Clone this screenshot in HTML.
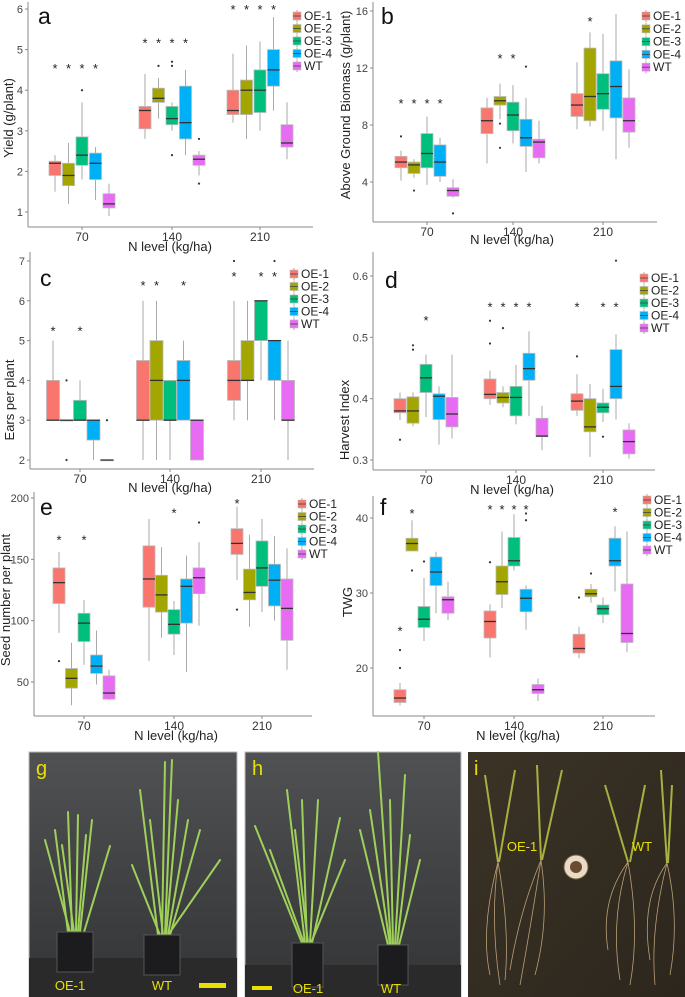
<!DOCTYPE html>
<html><head><meta charset="utf-8">
<style>
html,body{margin:0;padding:0;background:#fff;}
svg{display:block;font-family:"Liberation Sans",sans-serif;}
</style></head>
<body>
<svg id="fig" width="685" height="997" viewBox="0 0 685 997" xmlns="http://www.w3.org/2000/svg">
<g>
  <defs>
    <linearGradient id="bgG" x1="0" y1="0" x2="0" y2="1"><stop offset="0" stop-color="#505153"/><stop offset="1" stop-color="#333436"/></linearGradient>
    <linearGradient id="bgI" x1="0" y1="0" x2="1" y2="1"><stop offset="0" stop-color="#3b3326"/><stop offset="1" stop-color="#2c261d"/></linearGradient>
  </defs>
  <rect x="29" y="752" width="208" height="245" fill="url(#bgG)" stroke="#bbb"/>
  <rect x="29" y="958" width="208" height="39" fill="#2a2a2b"/>
  <g stroke="#9fd05a" stroke-width="2" fill="none" stroke-linecap="round">
    <path d="M68 932 L55 830"/><path d="M72 932 L68 812"/><path d="M76 932 L78 815"/><path d="M80 932 L92 820"/><path d="M84 932 L110 846"/><path d="M70 932 L45 840"/><path d="M78 932 L86 835"/><path d="M74 932 L62 845"/>
    <path d="M158 935 L140 790"/><path d="M162 935 L165 762"/><path d="M165 935 L172 760"/><path d="M168 935 L188 820"/><path d="M170 935 L200 830"/><path d="M160 935 L132 865"/><path d="M163 935 L150 820"/><path d="M166 935 L178 800"/><path d="M168 935 L220 860"/>
  </g>
  <rect x="57" y="932" width="36" height="40" fill="#1c1c1e" stroke="#555"/>
  <rect x="144" y="935" width="36" height="40" fill="#1c1c1e" stroke="#555"/>
  <text x="70" y="990" fill="#e8e000" font-size="13" text-anchor="middle">OE-1</text>
  <text x="162" y="990" fill="#e8e000" font-size="13" text-anchor="middle">WT</text>
  <rect x="199" y="983" width="27" height="5" fill="#e8e000"/>
  <text x="36" y="775" fill="#e8e000" font-size="20">g</text>
</g>
<g>
  <rect x="245" y="752" width="216" height="245" fill="url(#bgG)" stroke="#bbb"/>
  <rect x="245" y="965" width="216" height="32" fill="#2a2a2b"/>
  <g stroke="#9fd05a" stroke-width="2" fill="none" stroke-linecap="round">
    <path d="M302 943 L255 826"/><path d="M305 943 L287 790"/><path d="M307 943 L302 800"/><path d="M310 943 L318 800"/><path d="M312 943 L340 818"/><path d="M308 943 L295 830"/><path d="M311 943 L345 860"/><path d="M304 943 L270 850"/>
    <path d="M388 945 L360 830"/><path d="M391 945 L378 752"/><path d="M393 945 L390 800"/><path d="M395 945 L405 775"/><path d="M397 945 L410 835"/><path d="M399 945 L420 860"/><path d="M390 945 L370 810"/>
  </g>
  <rect x="292" y="943" width="31" height="44" fill="#1c1c1e" stroke="#555"/>
  <rect x="378" y="945" width="30" height="40" fill="#1c1c1e" stroke="#555"/>
  <text x="308" y="993" fill="#e8e000" font-size="13" text-anchor="middle">OE-1</text>
  <text x="391" y="993" fill="#e8e000" font-size="13" text-anchor="middle">WT</text>
  <rect x="252" y="986" width="20" height="4" fill="#e8e000"/>
  <text x="252" y="775" fill="#e8e000" font-size="20">h</text>
</g>
<g>
  <rect x="468" y="752" width="217" height="245" fill="url(#bgI)"/>
  <g stroke="#a7b040" stroke-width="2" fill="none">
    <path d="M498 862 L485 775"/><path d="M499 862 L515 770"/><path d="M541 860 L537 765"/><path d="M542 860 L562 770"/><path d="M628 862 L605 785"/><path d="M630 862 L645 785"/><path d="M667 863 L661 770"/><path d="M668 863 L672 785"/>
  </g>
  <g stroke="#c9ad80" stroke-width="0.8" fill="none" opacity="0.9">
    <path d="M498 862 Q490 920 500 985"/><path d="M498 862 Q510 930 505 980"/><path d="M498 862 Q480 930 490 975"/><path d="M541 860 Q530 930 520 985"/><path d="M541 860 Q550 920 535 975"/><path d="M541 860 Q520 910 510 970"/>
    <path d="M628 862 Q610 920 620 980"/><path d="M628 862 Q640 930 630 985"/><path d="M628 862 Q600 900 608 950"/><path d="M667 863 Q650 930 655 985"/><path d="M667 863 Q680 920 670 975"/><path d="M667 863 Q640 900 650 960"/>
  </g>
  <circle cx="576" cy="867" r="12" fill="#e8dcc8" stroke="#7a6040"/>
  <circle cx="576" cy="867" r="6" fill="#6b4c30"/>
  <text x="522" y="851" fill="#e8e000" font-size="13" text-anchor="middle">OE-1</text>
  <text x="642" y="851" fill="#e8e000" font-size="13" text-anchor="middle">WT</text>
  <text x="474" y="775" fill="#e8e000" font-size="20">i</text>
</g>
</svg>
<script>
const seriesNames = ['OE-1','OE-2','OE-3','OE-4','WT'];
const seriesColors = ['#f8766d','#a3a500','#00bf7d','#00b0f6','#e76bf3'];
const groupLabels = ['70','140','210'];
const yieldStats = [
 [[1.5,1.9,2.2,2.25,2.4],[1.2,1.65,1.9,2.2,2.7],[1.8,2.15,2.4,2.85,3.7,4.0],[1.3,1.8,2.2,2.45,2.6],[0.9,1.1,1.2,1.45,1.7]],
 [[2.8,3.05,3.5,3.6,4.4],[3.3,3.7,3.8,4.05,4.3,4.6],[3.0,3.15,3.3,3.6,3.7,4.6,4.7,2.4],[2.4,2.8,3.2,4.1,4.5],[1.9,2.15,2.3,2.4,2.5,2.8,1.7]],
 [[3.2,3.4,3.5,4.0,4.9],[2.8,3.4,4.0,4.25,5.1],[3.0,3.45,4.0,4.5,5.2],[3.5,4.1,4.5,5.0,5.8],[2.3,2.6,2.7,3.15,3.7]]];
const yieldStars = [[0,0,4.55],[0,1,4.55],[0,2,4.55],[0,3,4.55],[1,0,5.18],[1,1,5.18],[1,2,5.18],[1,3,5.18],[2,0,6.0],[2,1,6.0],[2,2,6.0],[2,3,6.0]];
const yieldTicks = [1,2,3,4,5,6];
const biomassStats = [
 [[4.1,5.0,5.4,5.8,6.2,7.2],[4.3,4.6,5.2,5.4,5.6,3.4],[3.8,5.0,6.0,7.4,8.6],[4.0,4.4,5.4,6.6,7.1],[2.9,3.0,3.4,3.6,4.2,1.8]],
 [[5.3,7.4,8.3,9.2,9.9],[8.4,9.4,9.7,10.0,10.9,8.1,6.4],[6.7,7.6,8.7,9.6,10.8],[4.7,6.5,7.1,8.4,9.9,12.1],[5.3,5.7,6.8,7.0,8.3]],
 [[7.7,8.6,9.4,10.2,12.4],[7.9,8.3,10.0,13.4,14.5],[7.6,9.1,10.2,11.6,14.4],[5.6,8.5,10.7,12.5,15.8],[6.4,7.5,8.3,9.9,11.9]]];
const biomassStars = [[0,0,9.55],[0,1,9.55],[0,2,9.55],[0,3,9.55],[1,1,12.7],[1,2,12.7],[2,1,15.3]];
const biomassTicks = [4,8,12,16];
const earsStats = [
 [[3,3,3,4,5],[3,3,3,3,3,4,2],[3,3,3,3.5,4],[2,2.5,3,3,3],[2,2,2,2,2,3]],
 [[2,3,3,4.5,6],[2,3,4,5,6],[2,3,3,4,4],[3,3,4,4.5,5],[2,2,3,3,3]],
 [[3,3.5,4,4.5,6,7],[3,4,4,5,6],[4,5,6,6,6],[3,4,5,5,5,7],[2,3,3,4,5]]];
const earsStars = [[0,0,5.25],[0,2,5.25],[1,0,6.4],[1,1,6.4],[1,3,6.4],[2,0,6.62],[2,2,6.62],[2,3,6.62]];
const earsTicks = [2,3,4,5,6,7];
const hiStats = [
 [[0.365,0.377,0.38,0.4,0.41,0.333],[0.355,0.36,0.38,0.403,0.41,0.48,0.487],[0.37,0.41,0.434,0.456,0.472],[0.325,0.366,0.404,0.408,0.42],[0.335,0.354,0.375,0.402,0.472]],
 [[0.39,0.4,0.407,0.432,0.446,0.49,0.527],[0.386,0.393,0.402,0.41,0.42,0.515],[0.358,0.372,0.402,0.42,0.455],[0.372,0.43,0.449,0.474,0.51],[0.316,0.338,0.339,0.368,0.388]],
 [[0.372,0.381,0.396,0.408,0.44,0.469],[0.305,0.346,0.354,0.4,0.424],[0.362,0.377,0.386,0.393,0.416,0.338],[0.366,0.4,0.42,0.48,0.505,0.625],[0.302,0.31,0.33,0.349,0.36]]];
const hiStars = [[0,2,0.528],[1,0,0.55],[1,1,0.55],[1,2,0.55],[1,3,0.55],[2,0,0.55],[2,2,0.55],[2,3,0.55]];
const hiTicks = [0.3,0.4,0.5,0.6];
const seedStats = [
 [[90,114,131,143,156,67],[31,45,53,61,82],[64,83,98,106,117],[48,57,63,72,92],[35,36,41,55,60]],
 [[67,111,134,161,183],[86,107,121,137,160],[72,89,97,109,116],[58,98,128,134,153],[96,122,135,143,164,180]],
 [[133,154,163,175,193,109],[95,117,123,142,170],[107,128,143,165,183],[100,112,133,146,169],[60,84,110,134,159]]];
const seedStars = [[0,0,166],[0,2,166],[1,2,188],[2,0,196]];
const seedTicks = [50,100,150,200];
const twgStats = [
 [[15,15.4,16,17.1,18,20,22.4],[35.6,35.6,36.6,37.3,39.7,33],[23.6,25.4,26.5,28.2,32,34.2],[27.3,31,32.8,34.8,35.5],[26.4,27.3,29.1,29.5,31.5]],
 [[21.4,24,26.2,27.6,28.5,34.1],[28,29.8,31.5,33.6,38.2],[33,33.6,34.3,37.4,40.5],[25.1,27.5,29.3,30.5,31,39.7,40.6],[15.6,16.6,17.1,17.8,18.6]],
 [[21.3,22,22.6,24.5,25.5,29.4],[28.7,29.5,29.9,30.5,31.2,32.6],[26,27.1,27.9,28.4,29.4],[30.2,33.6,34.3,37.3,38.9],[22.1,23.4,24.6,31.2,38.2]]];
const twgStars = [[0,0,25],[0,1,40.7],[1,0,41.2],[1,1,41.2],[1,2,41.2],[1,3,41.2],[2,3,40.9]];
const twgTicks = [20,30,40];

const NS='http://www.w3.org/2000/svg';
const svg=document.getElementById('fig');
function mk(tag,attrs,parent){const e=document.createElementNS(NS,tag);for(const k in attrs)e.setAttribute(k,attrs[k]);(parent||svg).appendChild(e);return e;}

function drawPanel(cfg,stats,stars,ticks){
  const g=mk('g',{});
  
  
  const ys=v=>cfg.p1+(v-cfg.v1)*(cfg.p2-cfg.p1)/(cfg.v2-cfg.v1);
  const xs=(gi,si)=>cfg.gx[gi]+(si-2)*cfg.sp;
  const ax=mk('line',{x1:cfg.ax,y1:cfg.top,x2:cfg.ax,y2:cfg.axY,stroke:'#888','stroke-width':1},g);
  
  
  const bx=mk('line',{x1:cfg.ax,y1:cfg.axY,x2:cfg.right,y2:cfg.axY,stroke:'#888','stroke-width':1},g);
  
  
  ticks.forEach(t=>{
    const y=ys(t);
    mk('line',{x1:cfg.ax-3,y1:y,x2:cfg.ax,y2:y,stroke:'#888'},g);
    const tx=mk('text',{x:cfg.ax-5,y:y+4,'font-size':11,fill:'#444','text-anchor':'end'},g);
    tx.textContent=String(t);
    
    
  });
  groupLabels.forEach((l,i)=>{
    mk('line',{x1:cfg.gx[i],y1:cfg.axY,x2:cfg.gx[i],y2:cfg.axY+3,stroke:'#888'},g);
    const tx=mk('text',{x:cfg.gx[i],y:cfg.axY+14,'font-size':12,fill:'#333','text-anchor':'middle'},g);
    tx.textContent=l;
    
    
  });
  const hw=cfg.bw/2;
  stats.forEach((grp,gi)=>grp.forEach((s,si)=>{
    const x=xs(gi,si);
    const bg=mk('g',{},g);
    
    
    mk('line',{x1:x,y1:ys(s[0]),x2:x,y2:ys(s[4]),stroke:'#aaa','stroke-width':1},bg);
    mk('rect',{x:x-hw,y:ys(s[3]),width:cfg.bw,height:Math.max(0.8,ys(s[1])-ys(s[3])),fill:seriesColors[si],stroke:'#bbb','stroke-width':0.8},bg);
    mk('line',{x1:x-hw,y1:ys(s[2]),x2:x+hw,y2:ys(s[2]),stroke:'#333','stroke-width':1.3},bg);
    for(let k=5;k<s.length;k++){
      const o=mk('circle',{cx:x,cy:ys(s[k]),r:1.1,fill:'#333'},bg);
      
      
    }
  }));
  stars.forEach(st=>{
    const t=mk('text',{x:xs(st[0],st[1]),y:ys(st[2])+5,'font-size':13,fill:'#222','text-anchor':'middle'},g);
    t.textContent='*';
    
    
  });
  seriesNames.forEach((n,i)=>{
    const y=cfg.ly+i*cfg.ls;
    const lg=mk('g',{},g);
    
    
    mk('line',{x1:cfg.lx+4,y1:y-6,x2:cfg.lx+4,y2:y+6,stroke:'#aaa'},lg);
    mk('rect',{x:cfg.lx,y:y-4,width:8,height:8,fill:seriesColors[i],stroke:'#bbb','stroke-width':0.6},lg);
    mk('line',{x1:cfg.lx,y1:y,x2:cfg.lx+8,y2:y,stroke:'#444','stroke-width':0.8},lg);
    const t=mk('text',{x:cfg.lx+11,y:y+4,'font-size':12,fill:'#222'},lg);
    t.textContent=n;
  });
  const pl=mk('text',{x:cfg.letter[0],y:cfg.letter[1],'font-size':23,fill:'#111'},g);
  pl.textContent=cfg.letterText;
  
  
  const xt=mk('text',{x:cfg.xt[0],y:cfg.xt[1],'font-size':13,fill:'#222','text-anchor':'middle'},g);
  xt.textContent='N level (kg/ha)';
  
  
  const yt=mk('text',{x:0,y:0,'font-size':13,fill:'#222','text-anchor':'middle',transform:`translate(${cfg.yt[0]},${cfg.yt[1]}) rotate(-90)`},g);
  yt.textContent=cfg.ytitle;
  
  
}

drawPanel({name:'panel-a-yield',v1:6,p1:9,v2:1,p2:212,ax:28,top:2,axY:227,right:313,gx:[82,172,260],sp:13.5,bw:12,lx:293,ly:16,ls:12.5,letter:[38,24],letterText:'a',xt:[170,251],yt:[13,118],ytitle:'Yield (g/plant)'},yieldStats,yieldStars,yieldTicks);
drawPanel({name:'panel-b-biomass',v1:16,p1:11,v2:4,p2:182,ax:373,top:2,axY:222,right:657,gx:[427,513,603],sp:13,bw:12,lx:642,ly:16,ls:12.8,letter:[381,24],letterText:'b',xt:[512,244],yt:[350,105],ytitle:'Above Ground Biomass (g/plant)'},biomassStats,biomassStars,biomassTicks);
drawPanel({name:'panel-c-ears',v1:7,p1:261,v2:2,p2:460,ax:30,top:252,axY:469,right:314,gx:[80,170,261],sp:13.5,bw:13,lx:290,ly:274,ls:12.5,letter:[40,286],letterText:'c',xt:[170,492],yt:[14,400],ytitle:'Ears per plant'},earsStats,earsStars,earsTicks);
drawPanel({name:'panel-d-harvest-index',v1:0.6,p1:276,v2:0.3,p2:460,ax:373,top:252,axY:470,right:655,gx:[426,516,603],sp:13,bw:12,lx:640,ly:278,ls:12.5,letter:[385,288],letterText:'d',xt:[512,494],yt:[349,420],ytitle:'Harvest Index'},hiStats,hiStars,hiTicks);
drawPanel({name:'panel-e-seed-number',v1:200,p1:498,v2:50,p2:682,ax:34,top:492,axY:716,right:312,gx:[84,174,262],sp:12.5,bw:12,lx:298,ly:504,ls:12.5,letter:[40,515],letterText:'e',xt:[176,740],yt:[10,600],ytitle:'Seed number per plant'},seedStats,seedStars,seedTicks);
drawPanel({name:'panel-f-twg',v1:40,p1:518,v2:20,p2:668,ax:373,top:496,axY:716,right:655,gx:[424,514,603],sp:12,bw:12,lx:643,ly:500,ls:12.5,letter:[380,515],letterText:'f',xt:[518,740],yt:[352,602],ytitle:'TWG'},twgStats,twgStars,twgTicks);
</script>
</body></html>
